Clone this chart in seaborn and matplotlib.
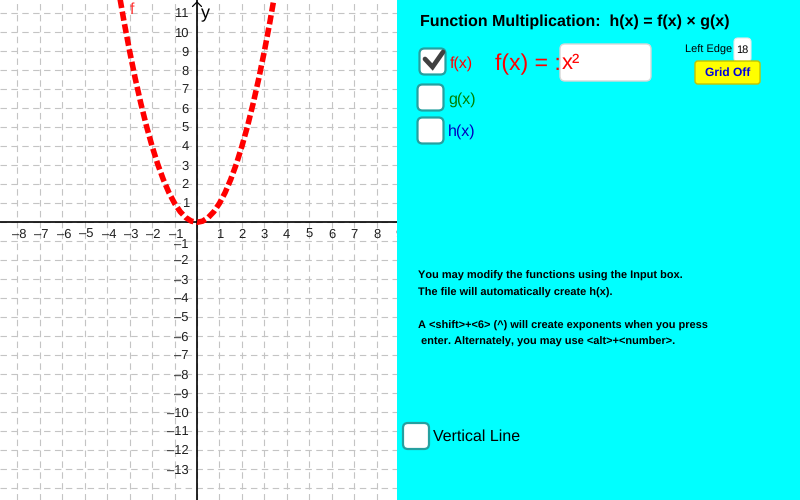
"""
plot.py
Function multiplication applet: graph of f(x) = x^2 with the cyan control panel.
"""

import matplotlib
matplotlib.use("Agg")
import matplotlib.pyplot as plt
from matplotlib.patches import FancyBboxPatch, Rectangle
import pandas as pd
import seaborn as sns


X_TICKS = [-8, -7, -6, -5, -4, -3, -2, -1, 1, 2, 3, 4, 5, 6, 7, 8]
Y_TICKS = [-13, -12, -11, -10, -9, -8, -7, -6, -5, -4, -3, -2, -1,
           1, 2, 3, 4, 5, 6, 7, 8, 9, 10, 11]
GRID_X = [-8, -7, -6, -5, -4, -3, -2, -1, 0, 1, 2, 3, 4, 5, 6, 7, 8]
GRID_Y = [-14, -13, -12, -11, -10, -9, -8, -7, -6, -5, -4, -3, -2, -1,
          0, 1, 2, 3, 4, 5, 6, 7, 8, 9, 10, 11]

F_X = [-3.5, -3.25, -3, -2.75, -2.5, -2.25, -2, -1.75, -1.5, -1.25, -1, -0.75,
       -0.5, -0.25, 0, 0.25, 0.5, 0.75, 1, 1.25, 1.5, 1.75, 2, 2.25, 2.5, 2.75,
       3, 3.25, 3.5]
F_Y = [12.25, 10.56, 9, 7.56, 6.25, 5.06, 4, 3.06, 2.25, 1.56, 1, 0.56,
       0.25, 0.06, 0, 0.06, 0.25, 0.56, 1, 1.56, 2.25, 3.06, 4, 5.06, 6.25, 7.56,
       9, 10.56, 12.25]

TITLE = "Function Multiplication:  h(x) = f(x) \u00d7 g(x)"
NOTES = [
    "You may modify the functions using the Input box.",
    "The file will automatically create h(x).",
    "A <shift>+<6> (^) will create exponents when you press",
    " enter. Alternately, you may use <alt>+<number>.",
]

W, H = 800, 500
PANEL_X = 396.5
ORIGIN_X, ORIGIN_Y = 197.0, 222.3
UNIT_X, UNIT_Y = 22.45, 19.0
GRID_STYLE = dict(color="#c4c4c4", lw=0.8, dashes=(5.8, 4.0), zorder=1)

sns.set_theme(style="white")
plt.rcParams["font.family"] = ["Liberation Sans", "DejaVu Sans"]
plt.rcParams["text.hinting"] = "no_hinting"
plt.rcParams["text.hinting_factor"] = 1


def minus(v):
    return f"\u2013{abs(v)}" if v < 0 else str(v)


def checkbox(ui, x, y, size=26):
    ui.add_patch(FancyBboxPatch((x + 4, y + 4), size - 8, size - 8,
                                boxstyle="round,pad=4,rounding_size=5",
                                fc="white", ec="#25a0a0", lw=1.6))


fig = plt.figure(figsize=(W / 100, H / 100), dpi=100, facecolor="white")

# graph side, limits chosen so the units land on the applet's pixels
ax = fig.add_axes([0, 0, PANEL_X / W, 1])
ax.set_xlim(-ORIGIN_X / UNIT_X, (PANEL_X - ORIGIN_X) / UNIT_X)
ax.set_ylim((ORIGIN_Y - H) / UNIT_Y, ORIGIN_Y / UNIT_Y)

for v in GRID_X:
    ax.axvline(v, **GRID_STYLE)
for v in GRID_Y:
    ax.axhline(v, **GRID_STYLE)

for side in ["top", "right", "bottom", "left"]:
    ax.spines[side].set_visible(False)
ax.axhline(0, color="black", lw=1.2, zorder=3)
ax.axvline(0, color="black", lw=1.2, zorder=3)
ax.set_xticks([])
ax.set_yticks([])

# baseline alignment keeps the numbers level, center jitters with glyph height
for v in X_TICKS:
    ax.text(v + (0.07 if v < 0 else 0), -0.81, minus(v), ha="center", va="baseline",
            fontsize=9.7, color="#202020", zorder=4)
ax.text(9.0, -0.81, "9", ha="center", va="baseline", fontsize=9.7, color="#202020",
        clip_on=True, zorder=4)
for v in Y_TICKS:
    # the -1 sits a little lower, clear of the x axis label next to it
    nudge = 0.12 if v == -1 else 0
    ax.text(-0.36, v - 0.22 - nudge, minus(v), ha="right", va="baseline",
            fontsize=9.7, color="#202020", zorder=4)

curve = pd.DataFrame({"x": F_X, "y": F_Y})
sns.lineplot(data=curve, x="x", y="y", ax=ax, color="#ff0000", lw=4.0, zorder=5,
             sort=False, dashes=False, errorbar=None)
line = ax.lines[-1]
line.set_dashes((1.65, 0.65))
line.set_dash_capstyle("butt")
ax.set_xlabel("")
ax.set_ylabel("")

ax.text(-2.9, 11.17, "f", color="#ff3030", fontsize=11.5, ha="center", va="center", zorder=6)
ax.text(0.38, 11.0, "y", color="black", fontsize=13, ha="center", va="center", zorder=6)

# control panel, drawn in pixel coordinates
ui = fig.add_axes([0, 0, 1, 1], facecolor="none")
ui.set_xlim(0, W)
ui.set_ylim(H, 0)
ui.axis("off")
ui.add_patch(Rectangle((PANEL_X, 0), W - PANEL_X, H, fc="#00ffff", ec="none"))
ui.plot([192.5, 197, 201.5], [6.5, 2, 6.5], color="black", lw=0.9, solid_capstyle="round")

ui.text(420, 21.5, TITLE, fontsize=11.7, fontweight="bold", color="black", va="center")

checkbox(ui, 419.5, 48.5)
ui.plot([425, 432.5, 443], [59, 67, 52], color="#404040", lw=3.4, solid_capstyle="round",
        solid_joinstyle="miter")
checkbox(ui, 417.5, 84.5)
checkbox(ui, 417.5, 117.5)
checkbox(ui, 403, 423)
ui.text(450, 63.5, "f(x)", color="#ff0000", fontsize=11.5, va="center")
ui.text(448, 99.5, "g(x)", color="#008000", fontsize=11.5, va="center")
ui.text(448, 132, "h(x)", color="#0000c0", fontsize=11.5, va="center")
ui.text(433, 437, "Vertical Line", color="black", fontsize=11.5, va="center")

ui.text(495, 64, "f(x) = :", color="#ff0000", fontsize=16.5, va="center")
ui.add_patch(FancyBboxPatch((564, 48), 83, 29, boxstyle="round,pad=4,rounding_size=5",
                            fc="white", ec="#d8d8d8", lw=1))
ui.text(562, 63.5, "x\u00b2", color="#ff0000", fontsize=16, va="center")

ui.text(685, 50, "Left Edge", color="black", fontsize=7.9, va="center")
ui.add_patch(FancyBboxPatch((737, 41), 11, 18, boxstyle="round,pad=3,rounding_size=4",
                            fc="white", ec="#e8e8e8", lw=0.8))
ui.text(742.5, 50, "18", color="black", fontsize=8, ha="center", va="center")
ui.add_patch(FancyBboxPatch((698, 64), 59, 17, boxstyle="round,pad=3,rounding_size=3",
                            fc="#ffff00", ec="#c4c400", lw=1))
ui.text(727.5, 72.5, "Grid Off", color="#0000e0", fontsize=8.8, fontweight="bold",
        ha="center", va="center")

for text, y in zip(NOTES, [276, 293, 326, 342]):
    ui.text(418, y, text, fontsize=7.95, fontweight="bold", color="black", va="center")

fig.savefig("out.png", dpi=100)
